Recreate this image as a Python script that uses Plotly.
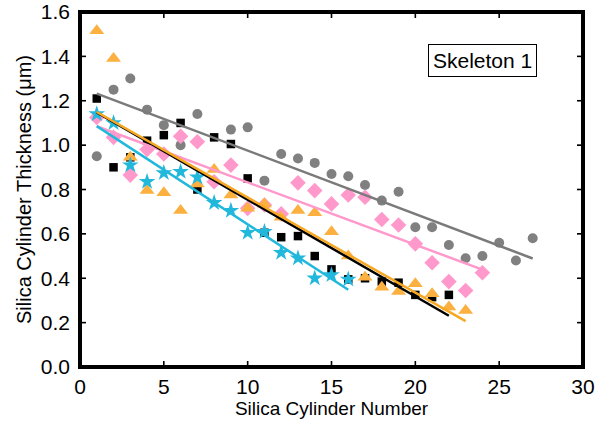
import numpy as np
import plotly.graph_objects as go

# Gray circles
gray_x = [1, 2, 3, 4, 5, 6, 7, 9, 10, 11, 12, 13, 14, 15, 16, 17, 18, 19, 20, 21, 22, 23, 24, 25, 26, 27]
gray_y = [0.95, 1.25, 1.30, 1.16, 1.09, 1.00, 1.14, 1.07, 1.08, 0.84, 0.96, 0.94, 0.92, 0.87, 0.86, 0.82,
          0.75, 0.79, 0.63, 0.63, 0.55, 0.49, 0.50, 0.56, 0.48, 0.58]

# Black squares
black_x = list(range(1, 23))
black_y = [1.21, 0.90, 0.945, 1.02, 1.045, 1.10, 0.80, 1.035, 1.005, 0.85, 0.605, 0.585, 0.59, 0.50,
           0.44, 0.395, 0.40, 0.385, 0.38, 0.325, 0.315, 0.325]

# Orange triangles
orange_x = list(range(1, 24))
orange_y = [1.515, 1.39, 0.945, 0.795, 0.785, 0.705, 0.825, 0.89, 0.775, 0.715, 0.735, 0.675, 0.705,
            0.695, 0.61, 0.50, 0.405, 0.36, 0.34, 0.375, 0.33, 0.27, 0.255]

# Pink diamonds
pink_x = list(range(1, 25))
pink_y = [1.125, 1.035, 0.865, 0.98, 0.96, 1.04, 1.015, 0.835, 0.91, 0.715, 0.73, 0.69, 0.83, 0.795,
          0.735, 0.775, 0.765, 0.665, 0.64, 0.555, 0.47, 0.385, 0.345, 0.425]

# Cyan stars
cyan_x = list(range(1, 17))
cyan_y = [1.14, 1.10, 0.91, 0.835, 0.875, 0.88, 0.855, 0.74, 0.705, 0.605, 0.61, 0.515, 0.49, 0.40,
          0.415, 0.395]

x_ticks = [0, 5, 10, 15, 20, 25, 30]
y_ticks = [0.0, 0.2, 0.4, 0.6, 0.8, 1.0, 1.2, 1.4, 1.6]

GRAY = "#808080"
BLACK = "#000000"
ORANGE = "#FBB040"
PINK = "#FF99CC"
CYAN = "#22B8DC"

X_RANGE = [0, 30]
Y_RANGE = [0, 1.6]

W, H = 599, 428
M = dict(l=80, r=16, t=12, b=61)
PLOT_W = W - M["l"] - M["r"]
PLOT_H = H - M["t"] - M["b"]
TICK_PX = 6
tick_dx = TICK_PX * (X_RANGE[1] - X_RANGE[0]) / PLOT_W
tick_dy = TICK_PX * (Y_RANGE[1] - Y_RANGE[0]) / PLOT_H

series = [
    (gray_x, gray_y, GRAY, "circle", 10, "#7a7a7a"),
    (pink_x, pink_y, PINK, "diamond", 12, PINK),
    (black_x, black_y, BLACK, "square", 8.5, BLACK),
    (orange_x, orange_y, ORANGE, "triangle-up", 13, "#F7A823"),
    (cyan_x, cyan_y, CYAN, "star", 12.5, CYAN),
]

fig = go.Figure()
for xs, ys, col, sym, size, _ in series:
    fig.add_trace(go.Scatter(x=xs, y=ys, mode="markers",
                             marker=dict(symbol=sym, size=size, color=col, line=dict(width=0)),
                             showlegend=False, hoverinfo="skip"))

for xs, ys, col, sym, size, lcol in series:
    k, b = np.polyfit(xs, ys, 1)
    xe = np.array([min(xs), max(xs)], dtype=float)
    fig.add_trace(go.Scatter(x=xe, y=k * xe + b, mode="lines",
                             line=dict(color=lcol, width=2.5),
                             showlegend=False, hoverinfo="skip"))

# axis frame and inside ticks (built from axis ranges and tick arrays)
fx = [X_RANGE[0], X_RANGE[1], X_RANGE[1], X_RANGE[0], X_RANGE[0]]
fy = [Y_RANGE[0], Y_RANGE[0], Y_RANGE[1], Y_RANGE[1], Y_RANGE[0]]
tx, ty = [], []
for v in x_ticks[1:-1]:
    tx += [v, v, None, v, v, None]
    ty += [Y_RANGE[0], Y_RANGE[0] + tick_dy, None, Y_RANGE[1], Y_RANGE[1] - tick_dy, None]
for v in y_ticks[1:-1]:
    tx += [X_RANGE[0], X_RANGE[0] + tick_dx, None, X_RANGE[1], X_RANGE[1] - tick_dx, None]
    ty += [v, v, None, v, v, None]
fig.add_trace(go.Scatter(x=tx, y=ty, mode="lines", line=dict(color="black", width=1.6),
                         showlegend=False, hoverinfo="skip", connectgaps=False))
fig.add_trace(go.Scatter(x=fx, y=fy, mode="lines", line=dict(color="black", width=4),
                         showlegend=False, hoverinfo="skip"))

fig.add_annotation(x=24.0, y=1.38, xref="x", yref="y", text="Skeleton 1", showarrow=False,
                   font=dict(size=21, color="black"), bordercolor="black", borderwidth=1,
                   borderpad=4, bgcolor="white")

FONT = "Liberation Sans, Arial, Helvetica, sans-serif"
axis_common = dict(showline=True, linecolor="#000000", linewidth=1.5, mirror="ticks",
                   ticks="inside", ticklen=TICK_PX, tickwidth=1.3, tickcolor="#000000",
                   showgrid=False, zeroline=False, automargin=False,
                   tickfont=dict(size=21, color="black", family=FONT))

fig.update_layout(
    width=W, height=H,
    margin=M,
    paper_bgcolor="white", plot_bgcolor="white",
    font=dict(family=FONT, color="black"),
    xaxis=dict(range=X_RANGE, tickvals=x_ticks, ticktext=[str(v) for v in x_ticks],
               title=dict(text="Silica Cylinder Number", font=dict(size=19), standoff=2),
               **axis_common),
    yaxis=dict(range=Y_RANGE, tickvals=y_ticks, ticktext=[f"{v:.1f}" for v in y_ticks],
               title=dict(text="Silica Cylinder Thickness (μm)", font=dict(size=20), standoff=4),
               ticklabelstandoff=4,
               **axis_common),
)

fig.write_html("out.html", config={"displayModeBar": False},
               post_script="document.body.style.margin='0px';")
